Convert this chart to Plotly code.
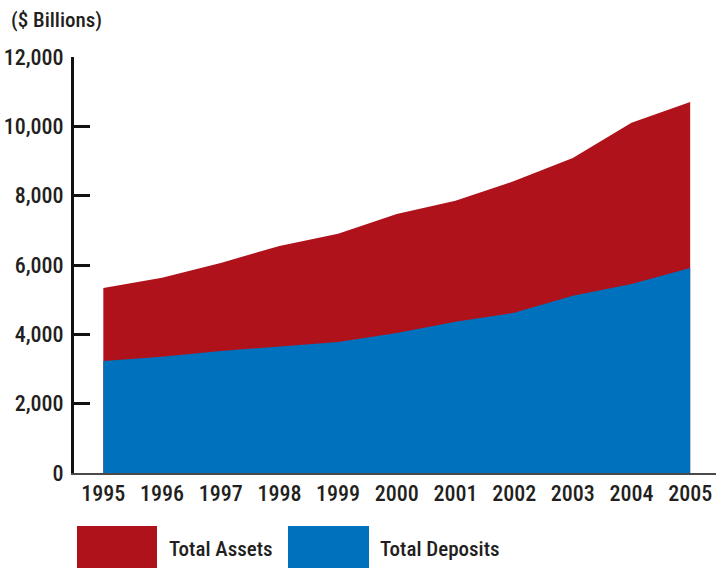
import plotly.graph_objects as go

years = [1995, 1996, 1997, 1998, 1999, 2000, 2001, 2002, 2003, 2004, 2005]
total_assets = [5340, 5630, 6060, 6550, 6900, 7470, 7850, 8420, 9090, 10100, 10700]
total_deposits = [3230, 3350, 3520, 3660, 3780, 4040, 4360, 4620, 5110, 5450, 5910]
series_names = ["Total Assets", "Total Deposits"]
series_colors = ["#B0121B", "#0071BC"]
y_ticks = [0, 2000, 4000, 6000, 8000, 10000, 12000]
y_tick_labels = ["0", "2,000", "4,000", "6,000", "8,000", "10,000", "12,000"]

FONT = "Roboto Condensed, Liberation Sans Narrow, Arial Narrow, sans-serif"
TXT = "#231F20"

fig = go.Figure()
for name, vals, col in zip(series_names, [total_assets, total_deposits], series_colors):
    fig.add_trace(go.Scatter(
        x=years, y=vals, name=name, mode="lines", fill="tozeroy",
        line=dict(width=0, color=col), fillcolor=col, showlegend=False,
        hoverinfo="x+y+name",
    ))

fig.update_layout(
    width=716, height=568,
    margin=dict(l=74, r=0, t=57, b=95, autoexpand=False),
    paper_bgcolor="white", plot_bgcolor="white",
    font=dict(family=FONT, size=22, color=TXT, weight=500),
    xaxis=dict(
        range=[1994.5, 2005.44], tickmode="array", tickvals=years,
        ticktext=[str(y) for y in years], showgrid=False, zeroline=False,
        showline=True, linecolor="#4a4a4a", linewidth=2, ticks="",
        automargin=False,
        tickfont=dict(family=FONT, size=22, color=TXT, weight=500),
    ),
    yaxis=dict(
        range=[0, 12000], tickmode="array", tickvals=y_ticks, ticktext=y_tick_labels,
        showgrid=False, zeroline=False, showline=True, linecolor="#111",
        linewidth=3, ticks="inside", ticklen=16, tickwidth=2.5, tickcolor="#111",
        automargin=False,
        tickfont=dict(family=FONT, size=22, color=TXT, weight=500), ticklabelstandoff=3,
    ),
)

fig.add_annotation(
    text="($ Billions)", xref="paper", yref="paper", x=(9 - 74) / 642, y=1 + 37 / 416,
    xanchor="left", yanchor="middle", showarrow=False,
    font=dict(family=FONT, size=21, color=TXT, weight=500),
)

# Legend swatches and labels
legend_boxes = [(77, 157), (288, 369)]
legend_text_x = [167, 378]
for (x0, x1), tx, name, col in zip(legend_boxes, legend_text_x, series_names, series_colors):
    fig.add_shape(
        type="rect", xref="paper", yref="paper",
        x0=(x0 - 74) / 642, x1=(x1 - 74) / 642,
        y0=-(526 - 473) / 416, y1=-(575 - 473) / 416,
        fillcolor=col, line=dict(width=0),
    )
    fig.add_annotation(
        text=name, xref="paper", yref="paper", x=(tx - 74) / 642, y=-(549 - 473) / 416,
        xanchor="left", yanchor="middle", showarrow=False,
        font=dict(family=FONT, size=21, color=TXT, weight=500),
    )

fig.write_html("out.html")
